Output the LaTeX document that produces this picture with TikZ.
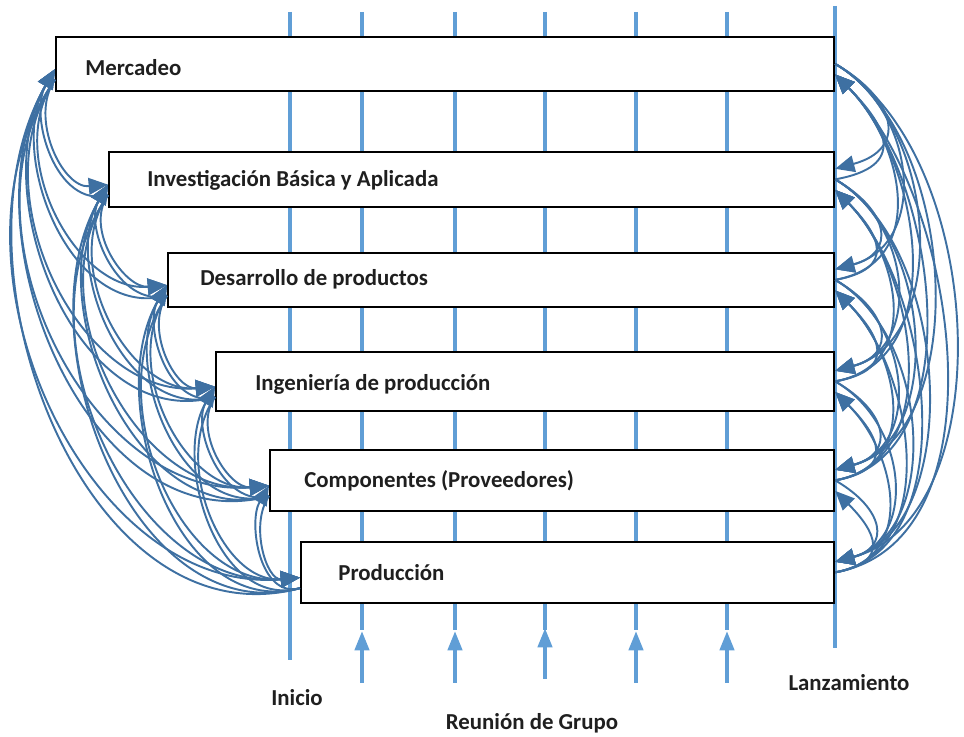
\documentclass[tikz,border=0pt]{standalone}
\usepackage{fontspec}
\setmainfont{Carlito}
\usetikzlibrary{arrows.meta}
\definecolor{flujo}{RGB}{62,112,162}
\definecolor{linea}{RGB}{96,158,214}
\tikzset{
  caja/.style={draw=black, line width=1.3pt, fill=white, anchor=south west, inner sep=0pt},
  texto/.style={font=\fontsize{13}{15}\selectfont\bfseries, text=black!88, inner sep=0pt},
  flecha/.style={draw=flujo, line width=1.1pt, -{Triangle[length=11pt,width=9.5pt]}},
  izqbaja/.style={out=235, in=185},
  izqsube/.style={out=195, in=240},
  derbaja/.style={out=330, in=15, looseness=0.9},
  dersube/.style={out=10, in=315, looseness=0.9},
  tiempo/.style={draw=linea, line width=2.3pt},
}

\begin{document}
\begin{tikzpicture}[x=0.02cm, y=0.02cm]
			%%%%% START %%%%%
			\useasboundingbox (0,0) rectangle (964,737);
			
			\draw[tiempo] (290,725) -- (290,77);
			\draw[tiempo] (362,725) -- (362,107);
			\draw[tiempo] (455,725) -- (455,107);
			\draw[tiempo] (545,725) -- (545,107);
			\draw[tiempo] (636,725) -- (636,107);
			\draw[tiempo] (727,725) -- (727,107);
			\draw[tiempo] (835,731) -- (835,89);
			
			\draw[tiempo, -{Triangle[length=11pt,width=8pt]}] (362,54) -- (362,106);
			\draw[tiempo, -{Triangle[length=11pt,width=8pt]}] (455,54) -- (455,106);
			\draw[tiempo, -{Triangle[length=11pt,width=8pt]}] (545,58) -- (545,109);
			\draw[tiempo, -{Triangle[length=11pt,width=8pt]}] (636,54) -- (636,106);
			\draw[tiempo, -{Triangle[length=11pt,width=8pt]}] (727,54) -- (727,106);
			
			\node[caja, minimum width=15.56cm, minimum height=1.08cm] (mer) at (55,645) {};
			\node[caja, minimum width=14.5cm, minimum height=1.1cm] (inv) at (108,529) {};
			\node[caja, minimum width=13.32cm, minimum height=1.08cm] (des) at (167,429) {};
			\node[caja, minimum width=12.36cm, minimum height=1.18cm] (ing) at (215,325) {};
			\node[caja, minimum width=11.28cm, minimum height=1.22cm] (com) at (269,225) {};
			\node[caja, minimum width=10.66cm, minimum height=1.22cm] (pro) at (300,133) {};
			
			\node[texto, anchor=west] (mer-t) at (85,669) {Mercadeo};
			\node[texto, anchor=west] (inv-t) at (147,557) {Investigación Básica y Aplicada};
			\node[texto, anchor=west] (des-t) at (200,458) {Desarrollo de productos};
			\node[texto, anchor=west] (ing-t) at (255,353) {Ingeniería de producción};
			\node[texto, anchor=west] (com-t) at (304,256) {Componentes (Proveedores)};
			\node[texto, anchor=west] (pro-t) at (338,164) {Producción};
			
			\node[texto] (ini) at (297,39) {Inicio};
			\node[texto] (reu) at (532,14) {Reunión de Grupo};
			\node[texto] (lan) at (849,54) {Lanzamiento};
			
			% izquierda, hacia abajo
			\draw[flecha] ([yshift=-9pt]mer.west) to[izqbaja] ([yshift=-3pt]inv.west);
			\draw[flecha] ([yshift=-9pt]mer.west) to[izqbaja] ([yshift=-3pt]des.west);
			\draw[flecha] ([yshift=-9pt]mer.west) to[izqbaja] ([yshift=-3pt]ing.west);
			\draw[flecha] ([yshift=-9pt]mer.west) to[izqbaja] ([yshift=-3pt]com.west);
			\draw[flecha] ([yshift=-9pt]mer.west) to[izqbaja] ([yshift=-3pt]pro.west);
			\draw[flecha] ([yshift=-9pt]inv.west) to[izqbaja] ([yshift=-3pt]des.west);
			\draw[flecha] ([yshift=-9pt]inv.west) to[izqbaja] ([yshift=-3pt]ing.west);
			\draw[flecha] ([yshift=-9pt]inv.west) to[izqbaja] ([yshift=-3pt]com.west);
			\draw[flecha] ([yshift=-9pt]inv.west) to[izqbaja] ([yshift=-3pt]pro.west);
			\draw[flecha] ([yshift=-9pt]des.west) to[izqbaja] ([yshift=-3pt]ing.west);
			\draw[flecha] ([yshift=-9pt]des.west) to[izqbaja] ([yshift=-3pt]com.west);
			\draw[flecha] ([yshift=-9pt]des.west) to[izqbaja] ([yshift=-3pt]pro.west);
			\draw[flecha] ([yshift=-9pt]ing.west) to[izqbaja] ([yshift=-3pt]com.west);
			\draw[flecha] ([yshift=-9pt]ing.west) to[izqbaja] ([yshift=-3pt]pro.west);
			\draw[flecha] ([yshift=-9pt]com.west) to[izqbaja] ([yshift=-3pt]pro.west);
			
			% izquierda, hacia arriba
			\draw[flecha] ([yshift=-9pt]inv.west) to[izqsube] ([yshift=-3pt]mer.west);
			\draw[flecha] ([yshift=-9pt]des.west) to[izqsube] ([yshift=-3pt]mer.west);
			\draw[flecha] ([yshift=-9pt]ing.west) to[izqsube] ([yshift=-3pt]mer.west);
			\draw[flecha] ([yshift=-9pt]com.west) to[izqsube] ([yshift=-3pt]mer.west);
			\draw[flecha] ([yshift=-9pt]pro.west) to[izqsube] ([yshift=-3pt]mer.west);
			\draw[flecha] ([yshift=-9pt]des.west) to[izqsube] ([yshift=-3pt]inv.west);
			\draw[flecha] ([yshift=-9pt]ing.west) to[izqsube] ([yshift=-3pt]inv.west);
			\draw[flecha] ([yshift=-9pt]com.west) to[izqsube] ([yshift=-3pt]inv.west);
			\draw[flecha] ([yshift=-9pt]pro.west) to[izqsube] ([yshift=-3pt]inv.west);
			\draw[flecha] ([yshift=-9pt]ing.west) to[izqsube] ([yshift=-3pt]des.west);
			\draw[flecha] ([yshift=-9pt]com.west) to[izqsube] ([yshift=-3pt]des.west);
			\draw[flecha] ([yshift=-9pt]pro.west) to[izqsube] ([yshift=-3pt]des.west);
			\draw[flecha] ([yshift=-9pt]com.west) to[izqsube] ([yshift=-3pt]ing.west);
			\draw[flecha] ([yshift=-9pt]pro.west) to[izqsube] ([yshift=-3pt]ing.west);
			\draw[flecha] ([yshift=-9pt]pro.west) to[izqsube] ([yshift=-3pt]com.west);
			
			% derecha, hacia abajo
			\draw[flecha] (mer.east) to[derbaja, looseness=1.8] ([yshift=6pt]inv.east);
			\draw[flecha] (mer.east) to[derbaja, looseness=1.2] ([yshift=6pt]des.east);
			\draw[flecha] (mer.east) to[derbaja, looseness=1] ([yshift=6pt]ing.east);
			\draw[flecha] (mer.east) to[derbaja] ([yshift=6pt]com.east);
			\draw[flecha] (mer.east) to[derbaja] ([yshift=6pt]pro.east);
			\draw[flecha] (inv.east) to[derbaja, looseness=1.8] ([yshift=6pt]des.east);
			\draw[flecha] (inv.east) to[derbaja, looseness=1.2] ([yshift=6pt]ing.east);
			\draw[flecha] (inv.east) to[derbaja, looseness=1] ([yshift=6pt]com.east);
			\draw[flecha] (inv.east) to[derbaja] ([yshift=6pt]pro.east);
			\draw[flecha] (des.east) to[derbaja, looseness=1.8] ([yshift=6pt]ing.east);
			\draw[flecha] (des.east) to[derbaja, looseness=1.2] ([yshift=6pt]com.east);
			\draw[flecha] (des.east) to[derbaja, looseness=1] ([yshift=6pt]pro.east);
			\draw[flecha] (ing.east) to[derbaja, looseness=1.8] ([yshift=6pt]com.east);
			\draw[flecha] (ing.east) to[derbaja, looseness=1.2] ([yshift=6pt]pro.east);
			\draw[flecha] (com.east) to[derbaja, looseness=1.8] ([yshift=6pt]pro.east);
			
			% derecha, hacia arriba
			\draw[flecha] (inv.east) to[dersube, looseness=1.8] ([yshift=-6pt]mer.east);
			\draw[flecha] (des.east) to[dersube, looseness=1.2] ([yshift=-6pt]mer.east);
			\draw[flecha] (ing.east) to[dersube, looseness=1] ([yshift=-6pt]mer.east);
			\draw[flecha] (com.east) to[dersube] ([yshift=-6pt]mer.east);
			\draw[flecha] (pro.east) to[dersube] ([yshift=-6pt]mer.east);
			\draw[flecha] (des.east) to[dersube, looseness=1.8] ([yshift=-6pt]inv.east);
			\draw[flecha] (ing.east) to[dersube, looseness=1.2] ([yshift=-6pt]inv.east);
			\draw[flecha] (com.east) to[dersube, looseness=1] ([yshift=-6pt]inv.east);
			\draw[flecha] (pro.east) to[dersube] ([yshift=-6pt]inv.east);
			\draw[flecha] (ing.east) to[dersube, looseness=1.8] ([yshift=-6pt]des.east);
			\draw[flecha] (com.east) to[dersube, looseness=1.2] ([yshift=-6pt]des.east);
			\draw[flecha] (pro.east) to[dersube, looseness=1] ([yshift=-6pt]des.east);
			\draw[flecha] (com.east) to[dersube, looseness=1.8] ([yshift=-6pt]ing.east);
			\draw[flecha] (pro.east) to[dersube, looseness=1.2] ([yshift=-6pt]ing.east);
			\draw[flecha] (pro.east) to[dersube, looseness=1.8] ([yshift=-6pt]com.east);
			
			%%%%% END %%%%%
\end{tikzpicture}
\end{document}
